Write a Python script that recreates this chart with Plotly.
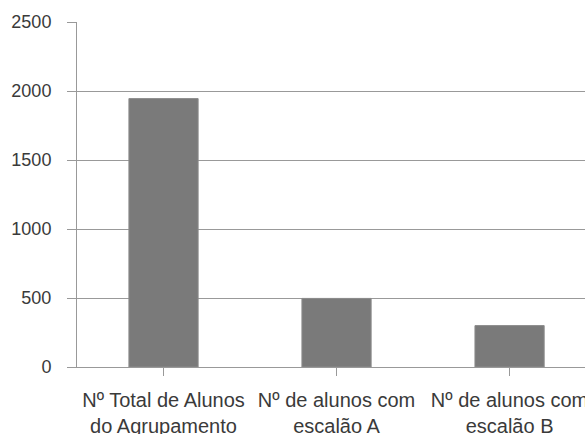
import plotly.graph_objects as go

categories = ["Nº Total de Alunos<br>do Agrupamento", "Nº de alunos com<br>escalão A", "Nº de alunos com<br>escalão B"]
values = [1945, 497, 300]
y_ticks = [0, 500, 1000, 1500, 2000, 2500]

fig = go.Figure()
fig.add_trace(go.Bar(
    x=[0, 1, 2], y=values, width=0.4,
    marker=dict(color="#7a7a7a", line=dict(color="#8c8c8c", width=1)),
))
fig.update_layout(
    width=585, height=434,
    margin=dict(l=77, r=0, t=22, b=67),
    paper_bgcolor="white", plot_bgcolor="white",
    showlegend=False,
    font=dict(family="Liberation Sans", size=14, color="#3a3a3a"),
    bargap=0.6,
)
fig.update_xaxes(
    range=[-0.5, 2.436],
    tickmode="array", tickvals=[0, 1, 2], ticktext=categories,
    tickson="boundaries",
    ticks="outside", ticklen=8, tickcolor="#999999",
    showline=True, linecolor="#999999", linewidth=1,
    showgrid=False, zeroline=False,
    tickangle=0,
    tickfont=dict(size=20),
    ticklabelstandoff=7,
    ticklabeloverflow="allow",
    automargin=False,
)
fig.update_yaxes(
    range=[0, 2500], tickvals=y_ticks,
    ticks="outside", ticklen=9, tickcolor="#999999",
    showline=True, linecolor="#999999", linewidth=1,
    showgrid=True, gridcolor="#999999", gridwidth=1,
    zeroline=False,
    tickfont=dict(size=18),
    ticklabelstandoff=12,
    automargin=False,
)
fig.write_html("out.html")
